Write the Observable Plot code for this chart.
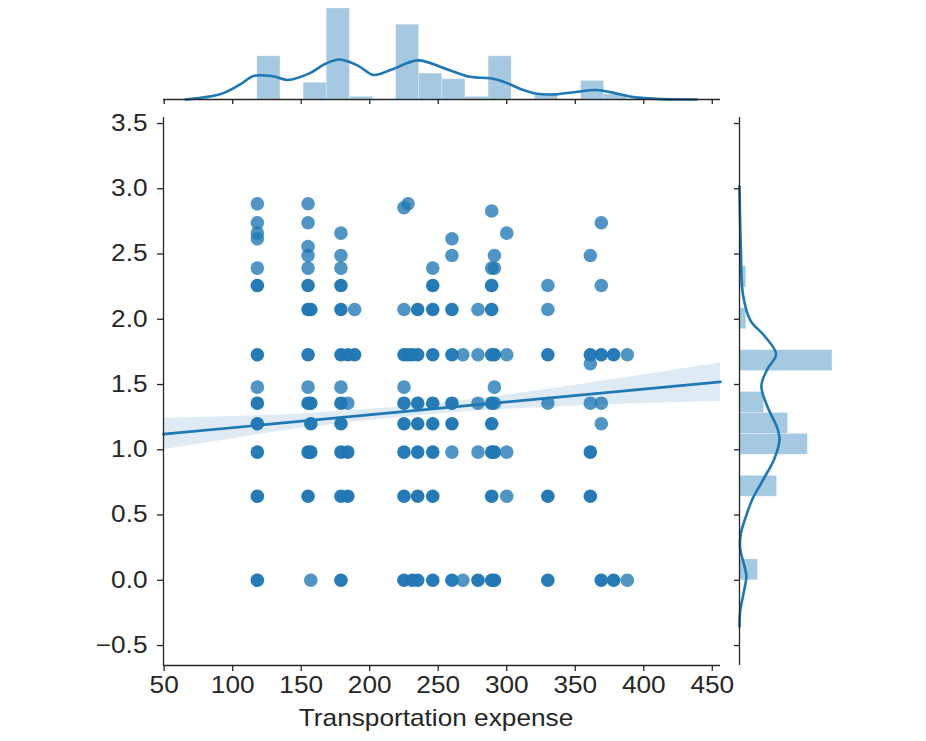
<!DOCTYPE html>
<html><head><meta charset="utf-8">
<script src="https://cdn.jsdelivr.net/npm/d3@7"></script>
<script src="https://cdn.jsdelivr.net/npm/@observablehq/plot@0.6"></script>
<style>
html,body{margin:0;padding:0;background:#fff;}
#chart{position:relative;width:926px;height:741px;overflow:hidden;background:#fff;}
#chart svg{position:absolute;top:0;}
</style></head><body><div id="chart"></div>
<script>
// ---- axes / ticks ----
const xTicks = [50, 100, 150, 200, 250, 300, 350, 400, 450];
const yTicks = [-0.5, 0, 0.5, 1, 1.5, 2, 2.5, 3, 3.5];
const xDomain = [49.5, 456];
const yDomain = [-0.653, 3.546];
const xLabel = "Transportation expense";

// ---- scatter points, grouped by y level ----
const yLevels = [0, 0.644, 0.982, 1.199, 1.357, 1.48, 1.659, 1.728, 2.075, 2.259, 2.392, 2.489, 2.558, 2.617, 2.66, 2.74, 2.83, 2.855, 2.885];
const darkX = [
  [118, 179, 225, 231, 235, 246, 260, 279, 289, 291, 330, 369, 378],
  [118, 155, 179, 184, 225, 235, 246, 289, 330, 361],
  [118, 155, 157, 179, 184, 225, 235, 246, 289, 291, 361],
  [118, 157, 179, 225, 235, 246, 260, 289],
  [118, 155, 157, 179, 225, 235, 246, 260, 289],
  [],
  [],
  [118, 155, 179, 184, 189, 225, 228, 231, 235, 246, 260, 289, 291, 330, 361, 369, 378],
  [155, 157, 179, 235, 246, 260, 289],
  [118, 155, 179, 246, 289],
  [], [], [], [], [], [], [], [], []
];
const lightX = [
  [157, 268, 388],
  [300],
  [260, 279, 300],
  [369],
  [184, 279, 291, 330, 361, 369],
  [118, 155, 179, 225, 291],
  [361],
  [268, 279, 300, 388],
  [189, 225, 279, 330],
  [330, 369],
  [118, 155, 179, 246, 289, 291],
  [155, 179, 260, 291, 361],
  [155],
  [118, 260],
  [118, 179, 300],
  [118, 155, 369],
  [289],
  [225],
  [118, 155, 228]
];

// ---- regression line and confidence band ----
const regX = [49.5, 456];
const regY = [1.12, 1.52];
const bandX = [49.5, 100, 150, 200, 250, 300, 350, 400, 456];
const bandLow = [1.00, 1.085, 1.165, 1.225, 1.275, 1.31, 1.335, 1.355, 1.37];
const bandHigh = [1.24, 1.255, 1.275, 1.31, 1.355, 1.42, 1.495, 1.575, 1.665];

// ---- top marginal (x distribution) ----
const topBinEdges = [118, 134.875, 151.75, 168.625, 185.5, 202.375, 219.25, 236.125, 253, 269.875, 286.75, 303.625, 320.5, 337.375, 354.25, 371.125, 388];
const topBinHeights = [0.474, 0, 0.185, 1.0, 0.03, 0, 0.822, 0.285, 0.222, 0.03, 0.474, 0, 0.044, 0, 0.204, 0.055];
const topKdeX = [65.6, 91.3, 104.9, 115.7, 129.3, 140.1, 156.4, 167.3, 178.1, 191.7, 202.5, 216.1, 235.1, 256.8, 273.0, 289.3, 300.2, 311.0, 321.9, 335.4, 351.7, 365.2, 378.8, 392.4, 414.1, 438.5];
const topKdeH = [0, 0.06, 0.16, 0.26, 0.255, 0.215, 0.29, 0.39, 0.44, 0.37, 0.27, 0.33, 0.43, 0.33, 0.25, 0.23, 0.18, 0.11, 0.063, 0.056, 0.085, 0.105, 0.07, 0.026, 0.004, 0];

// ---- right marginal (y distribution) ----
const rightBinEdges = [0, 0.160, 0.321, 0.481, 0.641, 0.801, 0.962, 1.122, 1.282, 1.443, 1.603, 1.763, 1.924, 2.084, 2.244, 2.405, 2.565, 2.725, 2.885];
const rightBinWidths = [0.199, 0, 0, 0, 0.404, 0, 0.735, 0.522, 0.265, 0, 1.0, 0, 0.074, 0, 0.074, 0, 0, 0];
const rightKdeY = [3.019, 2.533, 2.19, 1.99, 1.875, 1.733, 1.618, 1.49, 1.332, 1.16, 1.074, 0.932, 0.76, 0.617, 0.474, 0.36, 0.245, 0.103, 0.031, -0.097, -0.24, -0.355];
const rightKdeW = [0, 0.015, 0.037, 0.118, 0.265, 0.393, 0.30, 0.235, 0.30, 0.41, 0.43, 0.375, 0.246, 0.136, 0.0625, 0.015, 0.007, 0.055, 0.074, 0.044, 0.007, 0];

// ---- styling ----
const W = 926, H = 741;
const BLUE = "#1f77b4";
const INK = "#262626";
const FONT = "'Liberation Sans', Arial, Helvetica, sans-serif";
const STRETCH = 1.14;

// ---- tables built from the arrays ----
const points = [];
yLevels.forEach((y, i) => {
  lightX[i].forEach(x => points.push({x, y, dark: false}));
  darkX[i].forEach(x => points.push({x, y, dark: true}));
});
const reg = regX.map((x, i) => ({x, y: regY[i]}));
const band = bandX.map((x, i) => ({x, lo: bandLow[i], hi: bandHigh[i]}));
const topBins = topBinHeights.map((h, i) => ({x1: topBinEdges[i], x2: topBinEdges[i + 1], h}));
const topKde = topKdeX.map((x, i) => ({x, h: topKdeH[i]}));
const rightBins = rightBinWidths.map((w, i) => ({y1: rightBinEdges[i], y2: rightBinEdges[i + 1], w}));
const rightKde = rightKdeY.map((y, i) => ({y, w: rightKdeW[i]}));

function stretchText(svg, s) {
  svg.querySelectorAll("text").forEach(t => {
    const tr = t.getAttribute("transform");
    if (tr && /translate/.test(tr)) {
      t.setAttribute("transform", tr + ` scale(${s},1)`);
    } else {
      const x = +t.getAttribute("x") || 0, y = +t.getAttribute("y") || 0;
      t.setAttribute("x", 0); t.setAttribute("y", 0);
      t.setAttribute("transform", (tr ? tr + " " : "") + `translate(${x},${y}) scale(${s},1)`);
    }
  });
}

const baseStyle = {fontFamily: FONT, fontSize: "23px", color: INK, overflow: "visible"};

// ---- main joint panel ----
const main = Plot.plot({
  width: W, height: H,
  marginLeft: 163, marginRight: W - 720, marginTop: 117, marginBottom: H - 665,
  style: {...baseStyle, background: "white"},
  x: {domain: xDomain},
  y: {domain: yDomain},
  marks: [
    Plot.dot(points, {x: "x", y: "y", r: 6.8, fill: BLUE, fillOpacity: d => d.dark ? 0.97 : 0.78, stroke: "none"}),
    Plot.areaY(band, {x: "x", y1: "lo", y2: "hi", fill: BLUE, fillOpacity: 0.15, curve: "natural"}),
    Plot.line(reg, {x: "x", y: "y", stroke: BLUE, strokeWidth: 2.6}),
    Plot.ruleX([xDomain[0]], {stroke: INK, strokeWidth: 1.3}),
    Plot.ruleY([yDomain[0]], {stroke: INK, strokeWidth: 1.3}),
    Plot.axisX(xTicks, {tickSize: 6, tickPadding: 5, tickFormat: d => String(d), stroke: INK, strokeWidth: 1.3, fill: INK,
      label: null}),
    Plot.text([xLabel], {frameAnchor: "bottom", dy: 60, dx: -6, lineAnchor: "bottom", fill: INK, fontSize: 23}),
    Plot.axisY(yTicks, {tickSize: 6, tickPadding: 10, tickFormat: d3.format(".1f"), stroke: INK, strokeWidth: 1.3, fill: INK, label: null})
  ]
});

// ---- top marginal ----
const topM = Plot.plot({
  width: W, height: 112,
  marginLeft: 163, marginRight: W - 720, marginTop: 8, marginBottom: 112 - 99,
  style: {...baseStyle, background: "transparent"},
  x: {domain: xDomain},
  y: {domain: [0, 1], axis: null},
  marks: [
    Plot.rectY(topBins, {x1: "x1", x2: "x2", y: "h", fill: BLUE, fillOpacity: 0.4, stroke: "white", strokeOpacity: 0.5, strokeWidth: 0.6}),
    Plot.line(topKde, {x: "x", y: "h", stroke: BLUE, strokeWidth: 2.6, curve: "catmull-rom"}),
    Plot.ruleY([0], {stroke: INK, strokeWidth: 1.3}),
    Plot.axisX(xTicks, {tickSize: 5, tickFormat: () => "", stroke: INK, strokeWidth: 1.3, label: null})
  ]
});

// ---- right marginal ----
const RW = 226, RL = 700;
const rightM = Plot.plot({
  width: RW, height: H,
  marginLeft: 739 - RL, marginRight: RW - (832 - RL), marginTop: 117, marginBottom: H - 665,
  style: {...baseStyle, background: "transparent"},
  x: {domain: [0, 1], axis: null},
  y: {domain: yDomain},
  marks: [
    Plot.rectX(rightBins, {y1: "y1", y2: "y2", x: "w", fill: BLUE, fillOpacity: 0.4, stroke: "white", strokeOpacity: 0.5, strokeWidth: 0.6}),
    Plot.line(rightKde, {x: "w", y: "y", stroke: BLUE, strokeWidth: 2.6, curve: "catmull-rom"}),
    Plot.ruleX([0], {stroke: INK, strokeWidth: 1.3}),
    Plot.axisY(yTicks, {anchor: "left", tickSize: 5, tickFormat: () => "", stroke: INK, strokeWidth: 1.3, label: null})
  ]
});

const chart = document.getElementById("chart");
[main, topM, rightM].forEach(s => { stretchText(s, STRETCH); chart.appendChild(s); });
main.style.left = "0px";
topM.style.left = "0px";
rightM.style.left = RL + "px";
</script>
</body></html>
